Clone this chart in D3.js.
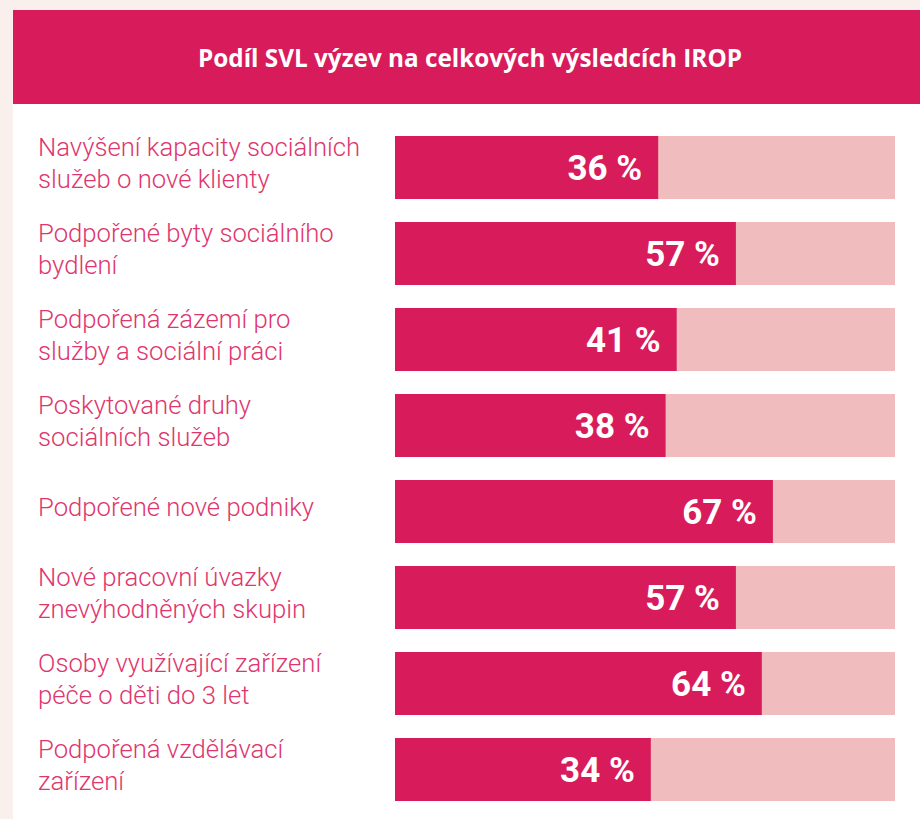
<!DOCTYPE html>
<html><head><meta charset="utf-8">
<script src="https://cdn.jsdelivr.net/npm/d3@7"></script>
<style>html,body{margin:0;padding:0;background:#f9f0ee;}svg{display:block;}</style>
</head><body>
<svg id="c" width="920" height="819"></svg>
<script>
const title = "Podíl SVL výzev na celkových výsledcích IROP";
const categories = [
  "Navýšení kapacity sociálních\nslužeb o nové klienty",
  "Podpořené byty sociálního\nbydlení",
  "Podpořená zázemí pro\nslužby a sociální práci",
  "Poskytované druhy\nsociálních služeb",
  "Podpořené nové podniky",
  "Nové pracovní úvazky\nznevýhodněných skupin",
  "Osoby využívající zařízení\npéče o děti do 3 let",
  "Podpořená vzdělávací\nzařízení"
];
const values = [36, 57, 41, 38, 67, 57, 64, 34];

const pink = "#d81b5a", track = "#f0bcbd", labelCol = "#e0366e";
const svg = d3.select("#c");
svg.append("rect").attr("width",920).attr("height",819).attr("fill","#f9f0ee");
svg.append("rect").attr("x",13).attr("y",104).attr("width",907).attr("height",715).attr("fill","#fff");
svg.append("rect").attr("x",13).attr("y",10).attr("width",907).attr("height",94).attr("fill",pink);
svg.append("text").attr("x",470).attr("y",67).attr("text-anchor","middle")
  .attr("fill","#fff").attr("font-family","Open Sans").attr("font-weight",700)
  .attr("font-size",24.3).text(title);

const y = d3.scaleBand().domain(categories).range([136, 801]).paddingInner(23/86).paddingOuter(0);
const trackX = 395, trackW = 500;
const x = d3.scaleLinear().domain([0,100]).range([trackX+130, trackX+trackW]);

const g = svg.append("g");
const rows = g.selectAll("g.row").data(categories.map((c,i)=>({c, v: values[i]}))).join("g");
rows.append("rect").attr("x",trackX).attr("y",d=>y(d.c)).attr("width",trackW).attr("height",y.bandwidth()).attr("fill",track);
rows.append("rect").attr("x",trackX).attr("y",d=>y(d.c)).attr("width",d=>x(d.v)-trackX).attr("height",y.bandwidth()).attr("fill",pink);
rows.append("text").attr("x",d=>x(d.v)-16).attr("y",d=>y(d.c)+y.bandwidth()/2+12.5)
  .attr("text-anchor","end").attr("fill","#fff").attr("font-family","Roboto").attr("font-weight",700)
  .attr("font-size",35).text(d=>d.v+" %");
rows.each(function(d){
  const lines = d.c.split("\n");
  const cy = y(d.c)+y.bandwidth()/2 - 5;
  const lh = 32;
  const t = d3.select(this).append("text").attr("fill",labelCol).attr("font-family","Roboto").attr("font-weight",300).attr("font-size",25.7);
  lines.forEach((l,i)=>{
    const base = cy - (lines.length-1)*lh/2 + i*lh + 9.5;
    t.append("tspan").attr("x",38).attr("y",base).text(l);
  });
});
</script>
</body></html>
